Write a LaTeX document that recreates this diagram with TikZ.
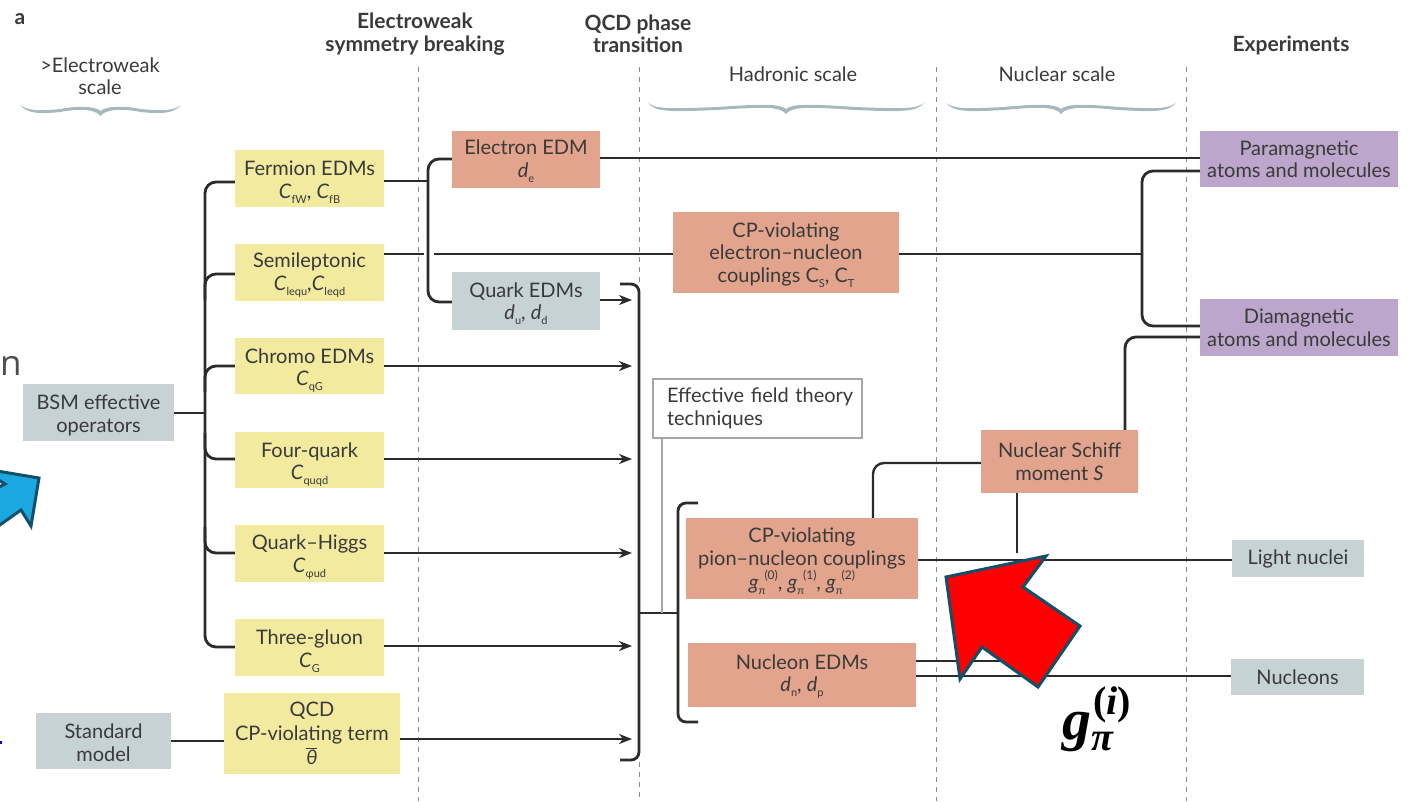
\documentclass[tikz,border=0pt]{standalone}
\usepackage{fontspec}
\setmainfont{Lato}
\newfontfamily\nfont{Open Sans}
\newfontfamily\mfont{Liberation Serif}
\usetikzlibrary{arrows.meta}
\definecolor{txt}{HTML}{3A3A3A}
\definecolor{ylw}{HTML}{F2EA9E}
\definecolor{slm}{HTML}{E2A48C}
\definecolor{gbl}{HTML}{C6D2D4}
\definecolor{prp}{HTML}{BCA6CB}
\definecolor{lin}{HTML}{2B2B2B}
\definecolor{brc}{HTML}{A8B9BE}
\definecolor{dsh}{HTML}{8A8A8A}
\definecolor{arrE}{HTML}{12506A}
\definecolor{arrB}{HTML}{1BA8E0}
\newcommand\sbb[1]{\raisebox{-0.5ex}{\fontsize{11}{11}\selectfont #1}}
\newcommand\spp[1]{\raisebox{1.0ex}{\fontsize{12}{12}\selectfont (#1)}}
\newcommand\gpi[1]{\textit{g}\sbb{π}\kern-1pt\spp{#1}}
\newcommand\dn[1]{\rule{0pt}{#1pt}}
\newcommand\barth{\rlap{\raisebox{16pt}{\rule{11pt}{1.1pt}}}\textit{θ}}
\newcommand\bx[7]{\pgfmathsetmacro\bxx{(#2+#4)/2}\pgfmathsetmacro\byy{(#3+#5)/2}%
  \node[#6, minimum width={(#4-#2)*1pt}, minimum height={(#5-#3)*1pt}] (#1) at (\bxx,\byy) {#7};}
\newcommand\scalebrace[3]{\pgfmathsetmacro\bxm{(#1+#2)/2}\pgfmathsetmacro\bw{#2-#1}%
  \fill[brc] (#1,#3) .. controls (#1+8,#3+9) and (#1+20,#3+9) .. (#1+0.25*\bw,#3+7)
   .. controls (\bxm-25,#3+4) and (\bxm-6,#3+3) .. (\bxm,#3+11)
   .. controls (\bxm+6,#3+3) and (\bxm+25,#3+4) .. (#2-0.25*\bw,#3+7)
   .. controls (#2-20,#3+9) and (#2-8,#3+9) .. (#2,#3)
   .. controls (#2-8,#3+6) and (#2-20,#3+6) .. (#2-0.25*\bw,#3+4)
   .. controls (\bxm+25,#3+1) and (\bxm+6,#3+0.5) .. (\bxm,#3+6)
   .. controls (\bxm-6,#3+0.5) and (\bxm-25,#3+1) .. (#1+0.25*\bw,#3+4)
   .. controls (#1+20,#3+6) and (#1+8,#3+6) .. (#1,#3) -- cycle;}
\tikzset{
  x=1pt,y=-1pt,
  every node/.style={font=\fontsize{20}{22.5}\selectfont, text=txt},
  box/.style={rectangle, inner sep=0pt, align=center},
  ybox/.style={box, fill=ylw},
  sbox/.style={box, fill=slm},
  gbox/.style={box, fill=gbl},
  pbox/.style={box, fill=prp},
  wbox/.style={box, fill=white, draw=gray!70, line width=1.2pt, text width=181pt, align=left},
  head/.style={align=center, font=\fontsize{21}{22.5}\selectfont\bfseries},
  scale label/.style={align=center},
  conn/.style={draw=lin, line width=2.8pt, rounded corners=11pt},
  thin conn/.style={draw=lin, line width=2.4pt},
  flow/.style={draw=lin, line width=2.8pt, -{Stealth[length=13pt,width=10pt,inset=4pt]}},
  faint/.style={draw=gray!70, line width=1.2pt},
  sep/.style={draw=dsh, line width=1pt, dash pattern=on 5pt off 5pt},
  callout/.style={line width=3pt, line join=miter, draw=arrE},
}
\begin{document}
\begin{tikzpicture}
\useasboundingbox (0,0) rectangle (1415,801);
% separators
\draw[sep] (418,67) -- (418,801);
\draw[sep] (639,67) -- (639,282);
\draw[sep] (639,762) -- (639,801);
\draw[sep] (936,67) -- (936,801);
\draw[sep] (1186,67) -- (1186,801);
% headers
\node[head] (ha) at (20,19) {a};
\node[head] (hew) at (415,34) {Electroweak\\symmetry breaking};
\node[head] (hqcd) at (638,34) {QCD phase\\transition};
\node[head] (hexp) at (1291,45) {Experiments};
\node[scale label] (s1) at (100,76) {>Electroweak\\scale};
\node[scale label] (s2) at (793,74) {Hadronic scale};
\node[scale label] (s3) at (1057,74) {Nuclear scale};
\scalebrace{20}{181}{105}
\scalebrace{648}{924}{103}
\scalebrace{946}{1176}{103}
% boxes
\bx{bsm}{23}{384}{174}{441}{gbox}{\dn{20}BSM effective\\operators}
\bx{sm}{36}{713}{171}{769}{gbox}{\dn{18}Standard\\model}
\bx{fer}{235}{150}{384}{207}{ybox}{\dn{22}Fermion EDMs\\\textit{C}\sbb{fW}, \textit{C}\sbb{fB}}
\bx{sem}{235}{244}{384}{301}{ybox}{\dn{20}Semileptonic\\\textit{C}\sbb{lequ},\textit{C}\sbb{leqd}}
\bx{chr}{235}{338}{384}{394}{ybox}{\dn{24}Chromo EDMs\\\textit{C}\sbb{qG}}
\bx{fq}{235}{432}{384}{488}{ybox}{\dn{24}Four-quark\\\textit{C}\sbb{quqd}}
\bx{qh}{235}{525}{384}{582}{ybox}{\dn{22}Quark–Higgs\\\textit{C}\sbb{φud}}
\bx{tg}{235}{619}{384}{676}{ybox}{\dn{22}Three-gluon\\\textit{C}\sbb{G}}
\bx{qcd}{224}{693}{400}{774}{ybox}{QCD\\[1.5pt]CP-violating term\\[1.5pt]\barth}
\bx{ele}{452}{131}{600}{188}{sbox}{\dn{18}Electron EDM\\\textit{d}\sbb{e}}
\bx{qk}{452}{272}{600}{330}{gbox}{\dn{20}Quark EDMs\\\textit{d}\sbb{u}, \textit{d}\sbb{d}}
\bx{cpe}{673}{212}{899}{293}{sbox}{\dn{20}CP-violating\\electron–nucleon\\couplings C\sbb{S}, C\sbb{T}}
\bx{eft}{653}{379}{862}{438}{wbox}{\mbox{Effective field theory}\\techniques}
\bx{pion}{686}{518}{918}{599}{sbox}{\dn{20}CP-violating\\pion–nucleon couplings\\\gpi{0}, \gpi{1}, \gpi{2}}
\bx{nuc}{688}{643}{916}{707}{sbox}{\dn{18}Nucleon EDMs\\\textit{d}\sbb{n}, \textit{d}\sbb{p}}
\bx{sch}{981}{430}{1138}{493}{sbox}{Nuclear Schiff\\moment \textit{S}}
\bx{par}{1200}{131}{1398}{187}{pbox}{Paramagnetic\\atoms and molecules}
\bx{dia}{1200}{299}{1398}{356}{pbox}{Diamagnetic\\atoms and molecules}
\bx{ln}{1232}{540}{1364}{577}{gbox}{Light nuclei}
\bx{nn}{1231}{659}{1364}{695}{gbox}{Nucleons}
% helper coordinates
\coordinate (gapL) at (424,254);
\coordinate (gapR) at (434,254);
\coordinate (busT) at (620,284);
\coordinate (busB) at (620,760);
\coordinate (nucEnd) at (1000,661);
\coordinate (schEnd) at (1017,553);
% left bus
\draw[conn] (fer.west |- 0,182) -| (205,300) -- (205,621) |- (tg.west |- 0,647);
\draw[thin conn] (bsm.east |- 0,413) -- (205,413);
\draw[conn] (sem.west |- 0,274) -| (205,300);
\draw[conn] (chr.west |- 0,366) -| (205,392);
\draw[conn] (205,433) |- (fq.west |- 0,459);
\draw[conn] (205,527) |- (qh.west |- 0,553);
% fermion bracket
\draw[conn] (fer.east |- 0,181) -- (428,181);
\draw[conn] (ele.west |- 0,159) -| (428,230) |- (qk.west |- 0,302);
% semileptonic line
\draw[thin conn] (sem.east |- 0,254) -- (gapL);
\draw[thin conn] (gapR) -- (cpe.west |- 0,254);
\draw[thin conn] (cpe.east |- 0,254) -- (1142,254);
% right bracket
\draw[conn] (par.west |- 0,171) -| (1142,250) |- (dia.west |- 0,326);
% para line
\draw[conn] (ele.east |- 0,158) -- (par.west |- 0,158);
% diamagnetic from schiff
\draw[conn] (dia.west |- 0,337) -| (sch.north -| 1125,0);
% flows
\draw[flow] (qk.east |- 0,300) -- (632,300);
\draw[flow] (chr.east |- 0,366) -- (632,366);
\draw[flow] (fq.east |- 0,459) -- (632,459);
\draw[flow] (qh.east |- 0,553) -- (632,553);
\draw[flow] (tg.east |- 0,646) -- (632,646);
\draw[flow] (qcd.east |- 0,739) -- (632,739);
\draw[conn] (sm.east |- 0,741) -- (qcd.west |- 0,741);
% big bracket
\draw[conn, rounded corners=8pt] (busT) -| (639,500) |- (busB);
\draw[thin conn] (639,613) -- (678,613);
\draw[conn, rounded corners=8pt] (698,503) -| (678,613) |- (698,722);
\draw[faint] (eft.south -| 662,0) -- (662,613);
% pion and nucleon connectors
\draw[thin conn, rounded corners=11pt] (pion.north -| 873,0) |- (sch.west |- 0,463);
\draw[thin conn] (pion.east |- 0,560) -- (ln.west |- 0,560);
\draw[conn] (sch.south -| 1017,0) -- (schEnd);
\draw[thin conn] (nuc.east |- 0,661) -- (nucEnd);
\draw[thin conn] (nuc.east |- 0,676) -- (nn.west |- 0,676);
% callout arrows
\draw[callout, fill=red] (946,577) -- (1046,556) -- (1023,587) -- (1080,626) -- (1038,687) -- (982,647) -- (960,679) -- cycle;
\draw[callout, fill=arrB] (-3,471) -- (39,478) -- (31,526) -- (21,510) -- (-3,527) -- (-3,488) -- (5,484) -- (-3,479) -- cycle;
% stray pieces
\node[anchor=base west, inner sep=0pt, font=\nfont\fontsize{35}{35}\selectfont, text=txt!90] (n2) at (0,375) {n};
\fill[blue!70!black] (0,741) rectangle (2,744);
\node[anchor=base west, inner sep=0pt, text=black, font=\mfont\bfseries\itshape\fontsize{58}{58}\selectfont] (gform) at (1062,739) {g\raisebox{-11pt}{\fontsize{40}{40}\selectfont π}\kern-20pt\raisebox{25pt}{\fontsize{40}{40}\selectfont{\upshape(}i{\upshape)}}};
\end{tikzpicture}
\end{document}
